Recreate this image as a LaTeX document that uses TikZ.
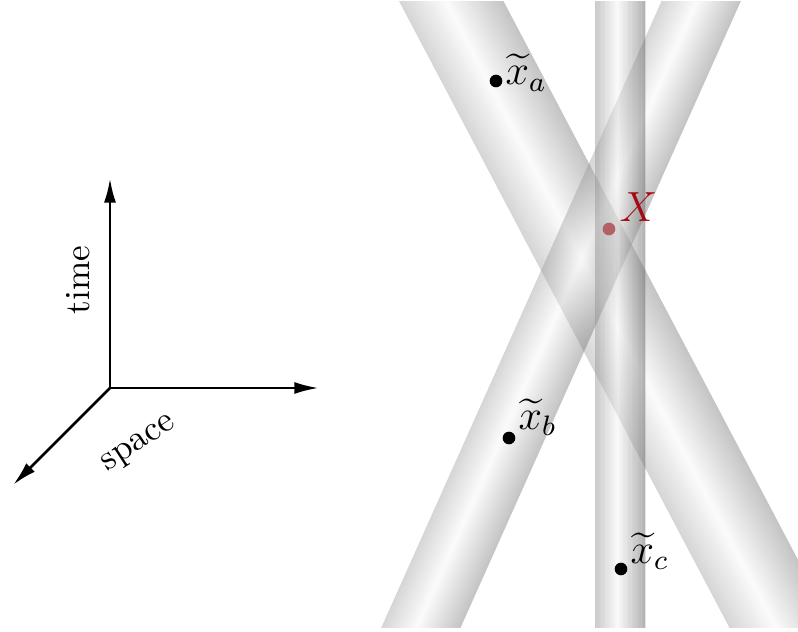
\documentclass[tikz,border=0pt]{standalone}
\usepackage{amsmath,amssymb}
\usepackage{tikz}
\usetikzlibrary{arrows.meta,positioning,calc}
\usepackage{xcolor}
\definecolor{tubeleft}{RGB}{145,145,145}
\definecolor{tuberight}{RGB}{100,100,100}
\definecolor{tubemid}{RGB}{245,245,245}
\definecolor{Xcol}{RGB}{165,10,20}
\definecolor{Xdot}{RGB}{178,98,100}
\tikzset{
  % event point
  evpt/.style={circle, fill=black, inner sep=0pt, minimum size=3.6pt},
  % point label
  evlabel/.style={inner sep=0pt, anchor=base west, font=\large},
  % axis arrow
  axisarrow/.style={-{Latex[length=7pt,width=3.4pt]}, thick, black},
}
% shaded tube along local x: \worldtube{half width}{length}
\newcommand{\worldtube}[2]{%
  \foreach \i in {0,...,39} {
    \pgfmathsetmacro{\f}{(\i+0.5)/40}
    \pgfmathsetmacro{\ya}{-#1+2*#1*\i/40}
    \pgfmathsetmacro{\yb}{-#1+2*#1*(\i+1)/40+0.4}
    \pgfmathsetmacro{\pl}{max(0,100*(1-\f/0.45))}
    \pgfmathsetmacro{\pr}{max(0,100*(\f-0.45)/0.55)}
    \ifdim\f pt<0.45pt
      \fill[tubeleft!\pl!tubemid] (-30,\ya) rectangle (#2,\yb);
    \else
      \fill[tuberight!\pr!tubemid] (-30,\ya) rectangle (#2,\yb);
    \fi
  }%
}

\begin{document}
\begin{tikzpicture}[x=0.01cm, y=-0.01cm]
  \useasboundingbox (0,0) rectangle (798,631);

  % ── tubes ──
  \begin{scope}
    \clip (0,2) rectangle (798,627);
    \begin{scope}[transparency group, opacity=0.38, shift={(781,627)}, rotate=117.8]
      \worldtube{46}{760}
    \end{scope}
    \begin{scope}[transparency group, opacity=0.38, shift={(421,627)}, rotate=65.9]
      \worldtube{36}{740}
    \end{scope}
    \begin{scope}[transparency group, opacity=0.5, shift={(620,627)}, rotate=90]
      \worldtube{25}{680}
    \end{scope}
  \end{scope}

  % ── points ──
  \node[evpt] (xa) at (496,81) {};
  \node[evlabel] (xal) at (505,85) {$\widetilde{x}_a$};
  \node[evpt] (xb) at (509,438) {};
  \node[evlabel] (xbl) at (518,429) {$\widetilde{x}_b$};
  \node[evpt] (xc) at (621,569) {};
  \node[evlabel] (xcl) at (630,563) {$\widetilde{x}_c$};
  \node[evpt, fill=Xdot] (X) at (609,229) {};
  \node[evlabel, text=Xcol] (Xl) at (619,222) {$X$};

  % ── axes ──
  \coordinate (O) at (110,388);
  \coordinate (T) at (110,178);
  \coordinate (S) at (319,388);
  \coordinate (D) at (13,485);
  \draw[axisarrow] (O) -- (T);
  \draw[axisarrow] (O) -- (S);
  \draw[axisarrow] (O) -- (D);
  \node[rotate=90] (time) at (78,280) {time};
  \node[rotate=33] (space) at (140,445) {space};

\end{tikzpicture}
\end{document}
